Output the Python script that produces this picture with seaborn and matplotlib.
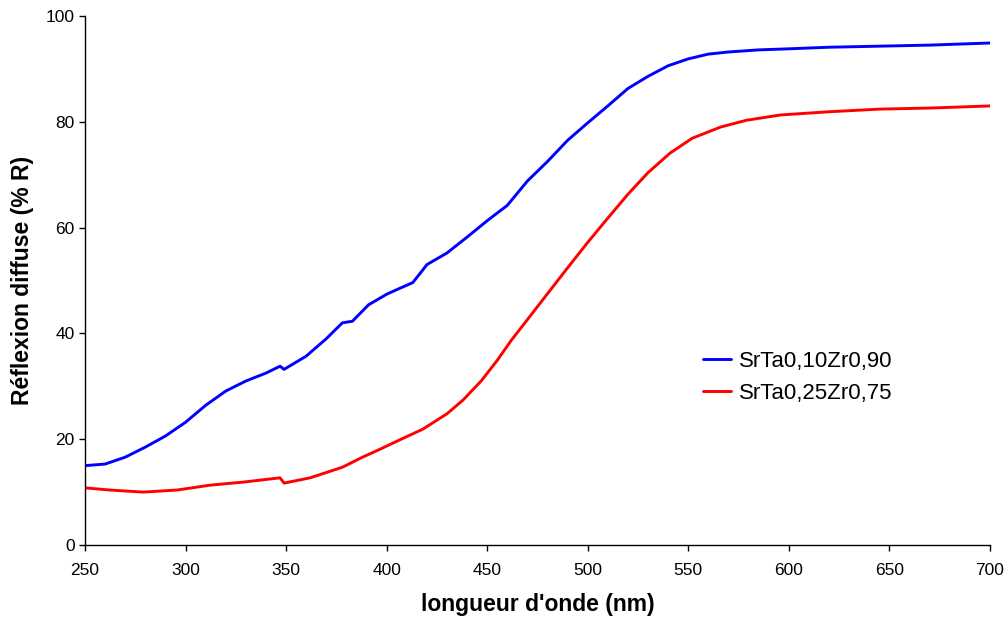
import numpy as np
import pandas as pd
import matplotlib
matplotlib.use("Agg")
import matplotlib.pyplot as plt
import seaborn as sns

# SrTa0,10Zr0,90 : wavelength (nm) / reflection (%)
wl_blue = [250, 260, 270, 280, 290, 300, 310, 320, 330, 340, 347, 349, 360, 370, 378,
           383, 391, 400, 407, 413, 418, 420, 430, 440, 450, 460, 470, 480, 490, 500,
           510, 520, 530, 540, 550, 560, 570, 585, 600, 620, 645, 670, 700]
r_blue = [15.0, 15.3, 16.6, 18.5, 20.6, 23.2, 26.4, 29.1, 31.0, 32.5, 33.8, 33.2, 35.7, 39.0, 42.0,
          42.3, 45.4, 47.4, 48.6, 49.6, 52.0, 53.0, 55.2, 58.2, 61.3, 64.2, 68.8, 72.5, 76.5, 79.8,
          83.0, 86.3, 88.6, 90.6, 91.9, 92.8, 93.2, 93.6, 93.8, 94.1, 94.3, 94.5, 94.9]

# SrTa0,25Zr0,75
wl_red = [250, 262, 279, 296, 312, 329, 347, 349, 362, 378, 388, 395, 405, 418, 430,
          438, 447, 455, 462, 470, 480, 490, 500, 510, 520, 530, 541, 552, 566, 579,
          596, 620, 645, 670, 700]
r_red = [10.8, 10.4, 10.0, 10.4, 11.3, 11.9, 12.7, 11.7, 12.7, 14.7, 16.6, 17.8, 19.6, 21.9, 24.8,
         27.4, 31.0, 34.9, 38.7, 42.6, 47.5, 52.4, 57.2, 61.8, 66.3, 70.4, 74.1, 76.9, 79.0, 80.3,
         81.3, 81.9, 82.4, 82.6, 83.0]

labels = ["SrTa0,10Zr0,90", "SrTa0,25Zr0,75"]
colors = ["#0000ff", "#ff0000"]

df = pd.concat([
    pd.DataFrame({"wl": wl_blue, "R": r_blue, "serie": labels[0]}),
    pd.DataFrame({"wl": wl_red, "R": r_red, "serie": labels[1]}),
])

sns.set_style("ticks")
plt.rcParams['font.family'] = ['Liberation Sans', 'DejaVu Sans']
plt.rcParams['text.color'] = 'black'

fig = plt.figure(figsize=(10.07, 6.21), dpi=100)
ax = fig.add_axes([0.0844, 0.1224, 0.8986, 0.8518])

sns.lineplot(data=df, x="wl", y="R", hue="serie", palette=colors, linewidth=2.1,
             sort=False, ax=ax)

ax.set_xlim(250, 700)
ax.set_ylim(0, 100)
ax.set_xticks(np.arange(250, 701, 50))
ax.set_yticks(np.arange(0, 101, 20))
ax.tick_params(labelsize=12.5, length=4, width=1, direction="out",
               colors="black", labelcolor="black")
ax.tick_params(axis="x", pad=9)
ax.set_xlabel("longueur d'onde (nm)", fontsize=16.5, fontweight="bold",
              labelpad=11, color="black")
ax.set_ylabel("Réflexion diffuse (% R)", fontsize=16.5, fontweight="bold",
              labelpad=8, color="black")
for s in ["top", "right"]:
    ax.spines[s].set_visible(False)
for s in ["left", "bottom"]:
    ax.spines[s].set_color("black")
    ax.spines[s].set_linewidth(1)

ax.legend(title=None, frameon=False, fontsize=16, loc="center left",
          bbox_to_anchor=(0.683, 0.317), borderaxespad=0, borderpad=0,
          handlelength=1.25, handletextpad=0.35, labelspacing=0.5)

fig.savefig("out.png", dpi=100)
